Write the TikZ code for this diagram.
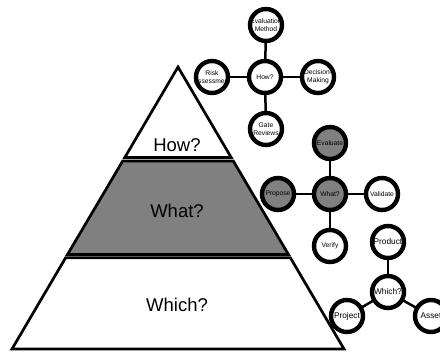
\documentclass[tikz,border=0pt]{standalone}
\usepackage{fontspec}
\setmainfont{Liberation Sans}
\definecolor{midgray}{RGB}{128,128,128}
\tikzset{
  layer/.style={draw=black,line width=2.7pt,line join=miter},
  bub/.style={shape=circle,minimum size=32pt,inner sep=0pt,outer sep=0pt,fill=white},
  bubg/.style={bub,fill=midgray},
  txts/.style={align=center,inner sep=0pt,font=\fontsize{6.7}{8.3}\selectfont},
  txtl/.style={align=center,inner sep=0pt,font=\fontsize{8.3}{9.5}\selectfont},
  link/.style={draw=black,line width=2.5pt},
  ringst/.style={draw=black,line width=4.4pt},
  big/.style={font=\fontsize{18.5}{20}\selectfont}
}
\begin{document}
\begin{tikzpicture}[x=1pt,y=-1pt]
\useasboundingbox (0,0) rectangle (440,354);
\clip (0,0) rectangle (440,354);
% pyramid
\path[layer,fill=white] (178,67) -- (231.2,157.5) -- (124.8,157.5) -- cycle;
\path[layer,fill=midgray] (233.3,161) -- (288.5,254.5) -- (67.5,254.5) -- (122.7,161) -- cycle;
\path[layer,fill=white] (290.4,257.8) -- (344,349) -- (12,349) -- (65.6,257.8) -- cycle;
\node[big] (lhow) at (177,145) {How?};
\node[big] (lwhat) at (177,211) {What?};
\node[big] (lwhich) at (177,305) {Which?};
% How cluster
\node[bub] (how) at (265,77) {};
\node[bub] (evm) at (266,25) {};
\node[bub] (risk) at (212,77) {};
\node[bub] (dec) at (318,77) {};
\node[bub] (gate) at (266,129) {};
% What cluster
\node[bubg] (what) at (330,194) {};
\node[bubg] (evl) at (330,143) {};
\node[bubg] (prop) at (278,194) {};
\node[bub] (val) at (382,194) {};
\node[bub] (ver) at (330,246) {};
% Which cluster
\node[bub] (which) at (388,292) {};
\node[bub] (prod) at (388,242) {};
\node[bub] (proj) at (347,316) {};
\node[bub] (asset) at (431,316) {};
% links
\foreach \a/\b in {how/evm,how/risk,how/dec,how/gate,what/evl,what/prop,what/val,what/ver,which/prod,which/proj,which/asset}
  \draw[link] (\a) -- (\b);
% texts
\node[txts] (t1) at (how) {How?};
\node[txts] (t2) at (evm) {Evaluation\\Method};
\node[txts] (t3) at (risk) {Risk\\Assessment};
\node[txts] (t4) at (dec) {Decision-\\Making};
\node[txts] (t5) at (gate) {Gate\\Reviews};
\node[txts] (t6) at (what) {What?};
\node[txts] (t7) at (evl) {Evaluate};
\node[txts] (t8) at (prop) {Propose};
\node[txts] (t9) at (val) {Validate};
\node[txts] (t10) at (ver) {Verify};
\node[txtl] (t11) at (which) {Which?};
\node[txtl] (t12) at (prod) {Product};
\node[txtl] (t13) at (proj) {Project};
\node[txtl] (t14) at (asset) {Asset};
% rings over text
\foreach \q in {how,evm,risk,dec,gate,what,evl,prop,val,ver,which,prod,proj,asset}
  \draw[ringst] (\q.center) circle (16pt);
\end{tikzpicture}
\end{document}
